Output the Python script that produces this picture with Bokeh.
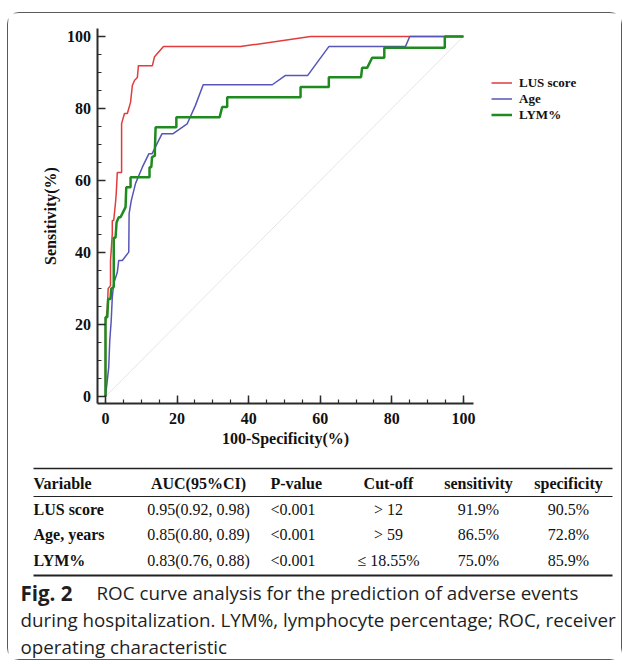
from bokeh.plotting import figure
from bokeh.models import (Range1d, SingleIntervalTicker, Legend, LegendItem, Label, BoxAnnotation)
from bokeh.layouts import column
from bokeh.embed import file_html
from bokeh.resources import INLINE

# ---------------- ROC data (100-Specificity %, Sensitivity %) ----------------
lus_fpr = [0, 0, 0.5, 0.75, 1.4, 1.4, 1.6, 1.9, 1.9, 2.3, 2.8, 3.0, 3.3, 4.5, 4.5, 5.3, 6.1, 7.0, 7.5,
           8.1, 8.9, 9.2, 13.1, 13.7, 16.2, 37.7, 57.3, 100]
lus_tpr = [0, 20, 24.4, 30.0, 30.8, 37.8, 40.6, 45.3, 48.9, 48.9, 53.9, 56.4, 62.2, 62.2, 75.8, 78.6, 78.6,
           81.7, 86.4, 87.8, 88.6, 91.9, 91.9, 94.4, 97.2, 97.2, 100, 100]

age_fpr = [0, 0.5, 0.9, 1.2, 1.6, 1.9, 2.3, 3.3, 3.7, 4.7, 6.5, 6.6, 7.2, 8.4, 10.3, 12.1, 13.0, 15.8,
           18.9, 22.8, 25.1, 27.3, 46.6, 50.3, 56.5, 62.4, 83.8, 85.0, 100]
age_tpr = [0, 4.4, 8.1, 15.6, 21.1, 27.6, 31.4, 34.5, 37.8, 37.8, 40.1, 50.8, 54.4, 59.2, 63.7, 67.4, 67.4,
           73.0, 73.0, 75.7, 80.8, 86.6, 86.6, 89.2, 89.2, 97.2, 97.2, 100, 100]

lym_fpr = [0, 0, 0.5, 0.75, 1.4, 1.6, 2.3, 2.3, 2.8, 3.1, 3.7, 4.2, 5.6, 5.8, 7.0, 7.0, 12.3, 12.3, 12.8,
           13.0, 13.8, 13.8, 14.0, 19.8, 19.8, 31.9, 32.6, 34.0, 34.0, 54.5, 54.5, 62.4, 62.4, 71.4, 71.7,
           73.1, 74.5, 77.9, 77.9, 94.8, 94.8, 100]
lym_tpr = [0, 22.0, 22.0, 27.1, 27.1, 29.9, 30.4, 44.1, 44.1, 48.4, 49.8, 49.8, 52.6, 58.1, 58.1, 60.9,
           60.9, 63.7, 63.7, 66.5, 66.9, 68.5, 74.8, 74.8, 77.6, 77.6, 80.4, 80.4, 83.1, 83.1, 86.0, 86.0,
           88.7, 88.7, 91.3, 91.3, 94.1, 94.1, 96.9, 96.9, 100, 100]

chance = [0, 100]
series_names = ["LUS score", "Age", "LYM%"]
series_colors = ["#e23b3b", "#5656b8", "#1f8a1f"]

# ---------------- table data ----------------
headers = ["Variable", "AUC(95%CI)", "P-value", "Cut-off", "sensitivity", "specificity"]
variables = ["LUS score", "Age, years", "LYM%"]
auc = ["0.95(0.92, 0.98)", "0.85(0.80, 0.89)", "0.83(0.76, 0.88)"]
pvals = ["<0.001", "<0.001", "<0.001"]
cutoffs = ["> 12", "> 59", "\u2264 18.55%"]
sens = ["91.9%", "86.5%", "75.0%"]
spec = ["90.5%", "72.8%", "85.9%"]

caption_bold = "Fig. 2"
caption_lines = ["ROC curve analysis for the prediction of adverse events",
                 "during hospitalization. LYM%, lymphocyte percentage; ROC, receiver",
                 "operating characteristic"]

SERIF = "Liberation Serif"
W, H = 613, 646

# ---------------- figure (frame = whole canvas; axes at fixed locations) ----------------
p = figure(width=W, height=H, x_range=Range1d(-27.1, 144.17), y_range=Range1d((383 - H) / 3.6, 106.39),
           output_backend="svg", toolbar_location=None, title=None, min_border=0)
p.grid.visible = False
p.outline_line_color = None
p.background_fill_color = "white"
p.border_fill_color = "white"

X_AX_Y = -1.94     # where the x axis sits (sensitivity value)
Y_AX_X = -2.37     # where the y axis sits (100-specificity value)

for ax in (p.xaxis[0], p.yaxis[0]):
    ax.ticker = SingleIntervalTicker(interval=20, num_minor_ticks=4)
    ax.axis_line_color = "#2b2b2b"
    ax.axis_line_width = 2
    ax.major_tick_line_color = "#2b2b2b"
    ax.major_tick_line_width = 1.5
    ax.minor_tick_line_color = "#2b2b2b"
    ax.minor_tick_line_width = 1.2
    ax.major_tick_in = 8
    ax.major_tick_out = 0
    ax.minor_tick_in = 4
    ax.minor_tick_out = 0
    ax.major_label_text_font = SERIF
    ax.major_label_text_font_style = "bold"
    ax.major_label_text_font_size = "16px"
    ax.major_label_text_color = "#111111"
    ax.axis_label_text_font = SERIF
    ax.axis_label_text_font_style = "bold"
    ax.axis_label_text_font_size = "16px"
    ax.axis_label_text_color = "#111111"

p.xaxis.axis_label = "100-Specificity(%)"
p.yaxis.axis_label = "Sensitivity(%)"
p.xaxis.fixed_location = X_AX_Y
p.yaxis.fixed_location = Y_AX_X
p.xaxis.bounds = (Y_AX_X, 102.8)
p.yaxis.bounds = (X_AX_Y, 102.2)
p.xaxis.major_label_standoff = 10
p.yaxis.major_label_standoff = 6
p.xaxis.axis_label_standoff = 2
p.yaxis.axis_label_standoff = 6

p.line(chance, chance, line_color="#e6e6e6", line_width=1)
r_lus = p.line(lus_fpr, lus_tpr, line_color=series_colors[0], line_width=1.5)
r_age = p.line(age_fpr, age_tpr, line_color=series_colors[1], line_width=1.5)
r_lym = p.line(lym_fpr, lym_tpr, line_color=series_colors[2], line_width=2.5)

legend = Legend(items=[LegendItem(label=series_names[0], renderers=[r_lus]),
                       LegendItem(label=series_names[1], renderers=[r_age]),
                       LegendItem(label=series_names[2], renderers=[r_lym])],
                location=(483, H - 109.5), margin=0, padding=0, spacing=0,
                glyph_width=21, glyph_height=15, label_height=15, label_standoff=7,
                label_text_font=SERIF, label_text_font_style="bold", label_text_font_size="13px",
                label_text_color="#111111",
                border_line_color=None, background_fill_alpha=0)
p.add_layout(legend)

# ---------------- table (screen units, y measured from top then flipped) ----------------
def put(txt, fx, fy, align="left", bold=False, font=SERIF, size="16px", color="#111111"):
    p.add_layout(Label(x=fx, y=H - fy, x_units="screen", y_units="screen", text=txt,
                       text_font=font, text_font_size=size, text_color=color,
                       text_font_style="bold" if bold else "normal",
                       text_align=align, text_baseline="middle"))

tbl_left, tbl_right = 25, 604
for ry, rw in zip([455, 483, 562], [1.3, 1.0, 1.8]):
    p.add_layout(BoxAnnotation(left=tbl_left, right=tbl_right, top=H - ry + rw / 2, bottom=H - ry - rw / 2,
                               left_units="screen", right_units="screen", top_units="screen",
                               bottom_units="screen", fill_color="#222222", fill_alpha=1,
                               line_color=None))

hdr_y = 470
row_y = [496, 521, 547]
var_x, p_x = 25, 262
center_x = [190, 380, 470, 560]   # AUC, Cut-off, sensitivity, specificity

put(headers[0], var_x, hdr_y, "left", True)
put(headers[2], p_x, hdr_y, "left", True)
for cx, h in zip(center_x, [headers[1], headers[3], headers[4], headers[5]]):
    put(h, cx, hdr_y, "center", True)

for i, ry in enumerate(row_y):
    put(variables[i], var_x, ry, "left", True)
    put(pvals[i], p_x, ry, "left")
    for cx, vals in zip(center_x, [auc, cutoffs, sens, spec]):
        put(vals[i], cx, ry, "center")

# ---------------- caption ----------------
cap_y = [579, 606, 633]
CAP_FONT, CAP_SIZE, CAP_COLOR = "Open Sans", "18.8px", "#1f1f1f"
put(caption_bold, 12, cap_y[0], "left", True, font=CAP_FONT, size="20.5px", color=CAP_COLOR)
put(caption_lines[0], 88, cap_y[0], "left", False, font=CAP_FONT, size=CAP_SIZE, color=CAP_COLOR)
put(caption_lines[1], 12, cap_y[1], "left", False, font=CAP_FONT, size=CAP_SIZE, color=CAP_COLOR)
put(caption_lines[2], 12, cap_y[2], "left", False, font=CAP_FONT, size=CAP_SIZE, color=CAP_COLOR)

layout = column(p, margin=(12, 0, 0, 7),
                styles={"border": "1.5px solid #5a5a5a", "border-radius": "12px"})

open("out.html", "w").write(file_html(layout, INLINE))
